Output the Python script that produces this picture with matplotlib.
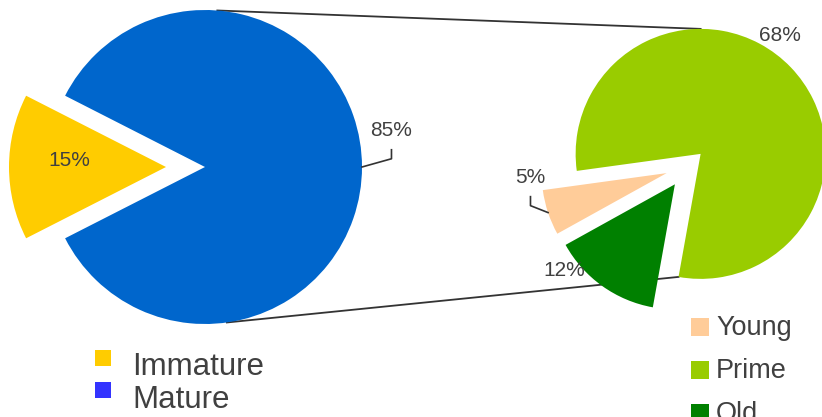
import numpy as np
import matplotlib.pyplot as plt
from matplotlib.patches import Rectangle

plt.rcParams['font.family'] = ['Liberation Sans', 'DejaVu Sans']

# population split, then the breakdown of the mature part (percent of total)
stage_labels = ['Immature', 'Mature']
stage_values = [15, 85]
age_labels = ['Young', 'Prime', 'Old']
age_values = [5, 68, 12]

stage_colors = ['#FFCC00', '#0066CC']
stage_legend_colors = ['#FFCC00', '#3333FF']
age_colors = ['#FFCC99', '#99CC00', '#008000']
text_color = '#404040'

W, H = 822, 417


def polar(wedge, angle, dist=1.0):
    cx, cy = wedge.center
    a = np.radians(angle)
    return cx + wedge.r * dist * np.cos(a), cy + wedge.r * dist * np.sin(a)


def mid(wedge):
    return 0.5 * (wedge.theta1 + wedge.theta2)


fig = plt.figure(figsize=(W / 100, H / 100), dpi=100)
ax = fig.add_axes([0, 0, 1, 1])

left, _ = ax.pie(stage_values, colors=stage_colors, center=(205, 250), radius=157,
                 startangle=207, counterclock=False, explode=[39, 0],
                 wedgeprops=dict(linewidth=0))
right, _ = ax.pie(age_values, colors=age_colors, center=(688, 251), radius=125,
                  startangle=209, counterclock=False, explode=[22.5, 17.5, 22.5],
                  wedgeprops=dict(linewidth=0))

ax.set_xlim(0, W)
ax.set_ylim(0, H)
ax.set_aspect('equal')
ax.axis('off')

# connector lines between the mature slice and the breakdown pie
mature, prime = left[1], right[1]
for (a0, w1, a1) in [(85.5, prime, 90.0), (-82.0, prime, prime.theta1)]:
    x0, y0 = polar(mature, a0)
    x1, y1 = polar(w1, a1)
    ax.plot([x0, x1], [y0, y1], color='#333333', lw=1.3, zorder=0.5)

# percent labels: (angle offset from slice middle, distance in radii, leader)
left_place = [(-4, 0.62, False), (11, 1.21, True)]
right_place = [(-16.5, 1.09, True), (12.5, 1.14, False), (-16.5, 1.12, False)]

for wedges, values, places in [(left, stage_values, left_place),
                               (right, age_values, right_place)]:
    for w, v, (da, dist, leader) in zip(wedges, values, places):
        m = mid(w)
        tx, ty = polar(w, m + da, dist)
        ax.text(tx, ty, f'{v}%', ha='center', va='center', fontsize=15,
                color=text_color)
        if leader:
            ex, ey = polar(w, m)
            ax.plot([ex, tx, tx], [ey, ty - 28, ty - 19], color='#333333',
                    lw=1.2)

# legends
for i, (lab, col) in enumerate(zip(stage_labels, stage_legend_colors)):
    top = H - 350 - 32 * i
    ax.add_patch(Rectangle((95, top - 16), 16, 16, color=col, lw=0))
    ax.text(132, H - 375 - 33 * i, lab, fontsize=22.5, color=text_color,
            va='baseline')

for i, (lab, col) in enumerate(zip(age_labels, age_colors)):
    top = H - 318 - 43 * i
    ax.add_patch(Rectangle((691, top - 18), 18, 18, color=col, lw=0))
    ax.text(716, H - 335 - 43 * i, lab, fontsize=19.5, color=text_color,
            va='baseline')

fig.savefig('out.png', dpi=100, facecolor='white')
